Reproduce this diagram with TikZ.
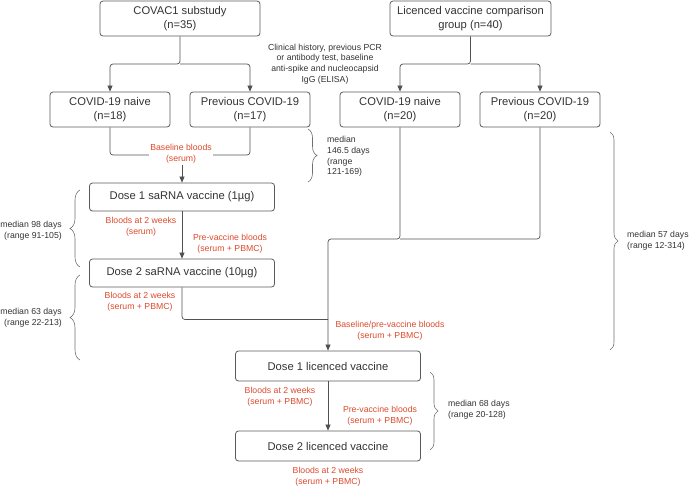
\documentclass[tikz,border=0pt]{standalone}
\usepackage{fontspec}
\setmainfont{Liberation Sans}
\usetikzlibrary{arrows.meta,decorations.pathreplacing}
\definecolor{txt}{HTML}{333333}
\definecolor{bord}{HTML}{5A5A5A}
\definecolor{lbl}{HTML}{DC4A2C}
\definecolor{brc}{HTML}{707070}
\tikzset{
  box/.style={draw=bord, line width=0.8pt, rounded corners=3pt, text=txt, align=center,
    inner sep=0pt, font=\fontsize{11.2}{13.6}\selectfont},
  conn/.style={draw=bord!90!black, line width=0.7pt, rounded corners=3pt},
  arr/.style={conn, -{Triangle[length=6pt,width=5pt]}},
  redlbl/.style={text=lbl, align=center, inner sep=1pt, font=\fontsize{8.7}{10.8}\selectfont},
  note/.style={text=txt, inner sep=0pt, font=\fontsize{8.7}{10.8}\selectfont},
  brace/.style={draw=brc, line width=0.6pt, decorate, decoration={brace, amplitude=#1}},
}
\begin{document}
\begin{tikzpicture}[x=1pt, y=-1pt]
\useasboundingbox (0,0) rectangle (691,488);

% boxes
\node[box, minimum width=160pt, minimum height=35pt] (covac) at (180,18.5) {COVAC1 substudy\\(n=35)};
\node[box, minimum width=161pt, minimum height=35pt] (lic) at (470.5,18.5) {Licenced vaccine comparison\\group (n=40)};
\node[box, minimum width=120pt, minimum height=35pt] (naiveL) at (110,109.5) {COVID-19 naive\\(n=18)};
\node[box, minimum width=120pt, minimum height=35pt] (prevL) at (250,109.5) {Previous COVID-19\\(n=17)};
\node[box, minimum width=120pt, minimum height=35pt] (naiveR) at (400,109.5) {COVID-19 naive\\(n=20)};
\node[box, minimum width=120pt, minimum height=35pt] (prevR) at (540,109.5) {Previous COVID-19\\(n=20)};
\node[box, minimum width=185pt, minimum height=28pt] (d1s) at (182,197) {Dose 1 saRNA vaccine (1µg)};
\node[box, minimum width=185pt, minimum height=28pt] (d2s) at (182,273) {Dose 2 saRNA vaccine (10µg)};
\node[box, minimum width=185pt, minimum height=30pt] (d1l) at (328,366) {Dose 1 licenced vaccine};
\node[box, minimum width=185pt, minimum height=30pt] (d2l) at (328,446) {Dose 2 licenced vaccine};

% junction coordinates
\coordinate (j1) at (180,64);
\coordinate (j1r) at (470.5,64);
\coordinate (j2) at (182,155);
\coordinate (j3) at (328,239);
\coordinate (j4) at (400,239);
\coordinate (j5) at (328,319.5);

% connectors
\draw[arr] (covac.south) -- (j1) -| (naiveL.north);
\draw[arr] (j1) -| (prevL.north);
\draw[arr] (lic.south) -- (j1r) -| (naiveR.north);
\draw[arr] (j1r) -| (prevR.north);
\draw[conn] (naiveL.south) |- (j2) -| (prevL.south);
\draw[arr] (j2) -- (d1s.north);
\draw[arr] (d1s) -- (d2s);
\draw[arr] (naiveR.south) |- (j3) -- (d1l.north);
\draw[conn] (prevR.south) |- (j4);
\draw[conn] (d2s.south) |- (j5);
\draw[arr] (d1l) -- (d2l);

% red labels
\node[redlbl, fill=white, inner sep=1.5pt] (lb0) at (181,154) {Baseline bloods\\(serum)};
\node[redlbl] (lb1) at (141,227) {Bloods at 2 weeks\\(serum)};
\node[redlbl] (lb2) at (230,243.5) {Pre-vaccine bloods\\(serum + PBMC)};
\node[redlbl] (lb3) at (140,302) {Bloods at 2 weeks\\(serum + PBMC)};
\node[redlbl] (lb4) at (390,331) {Baseline/pre-vaccine bloods\\(serum + PBMC)};
\node[redlbl] (lb5) at (280,397) {Bloods at 2 weeks\\(serum + PBMC)};
\node[redlbl] (lb6) at (380,416) {Pre-vaccine bloods\\(serum + PBMC)};
\node[redlbl] (lb7) at (328,477) {Bloods at 2 weeks\\(serum + PBMC)};

% notes
\node[note, align=center] (clin) at (325,64) {Clinical history, previous PCR\\or antibody test, baseline\\anti-spike and nucleocapsid\\IgG (ELISA)};
\node[note, align=left, anchor=west] (n1) at (327,156.5) {median\\146.5 days\\(range\\121-169)};
\node[note, align=right, anchor=east] (n2) at (62,230.5) {median 98 days\\(range 91-105)};
\node[note, align=right, anchor=east] (n3) at (62,317.5) {median 63 days\\(range 22-213)};
\node[note, align=left, anchor=west] (n4) at (627,240.5) {median 57 days\\(range 12-314)};
\node[note, align=left, anchor=west] (n5) at (448,410) {median 68 days\\(range 20-128)};

% braces
\draw[brace=9pt] (308,129) -- (308,182);
\draw[brace=10pt] (80,267) -- (80,190);
\draw[brace=10pt] (80,360) -- (80,275);
\draw[brace=8pt] (610,132) -- (610,350);
\draw[brace=8pt] (430,372) -- (430,450);
\end{tikzpicture}
\end{document}
